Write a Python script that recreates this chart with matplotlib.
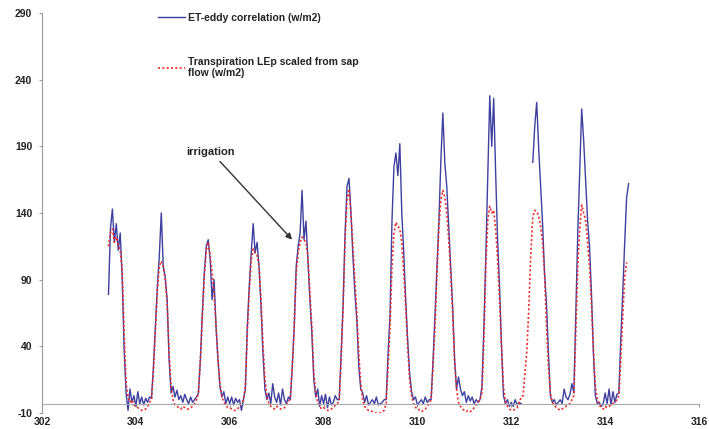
import numpy as np
import matplotlib.pyplot as plt

nan = np.nan

# Hourly values (w/m2), day of year 303 10:00 -> 314 12:00
# ET from eddy correlation
et_303 = [79, 128, 143, 118, 132, 112, 125, 92, 38, 5, -8, 8, -2, 3]  # hours 10-23
et_304 = [-5, 6, -3, 2, -4, 1, -2, 2, 1, 25, 55, 85, 108, 140, 100, 92, 75, 30, 5, 10, 2, 7, 0, 3]
et_305 = [-2, 4, 0, -3, 2, -2, 0, 2, 5, 30, 65, 95, 115, 120, 105, 75, 90, 55, 30, 10, 2, 6, -3, 2]
et_306 = [-3, 2, -4, 1, -2, 0, -8, 0, 8, 55, 85, 110, 132, 110, 118, 100, 70, 35, 8, 0, 5, -3, 12, 2]
et_307 = [-2, 5, -4, 8, 0, -3, 2, 0, 25, 55, 100, 115, 125, 157, 120, 134, 105, 75, 50, 15, 2, 8, -5, 3]
et_308 = [-3, 4, -6, 2, -4, -2, 3, 0, 0, 35, 72, 125, 160, 166, 140, 108, 80, 60, 25, 8, 5, -2, 3, -4]
et_309 = [-2, 0, -3, 2, -4, -3, -2, 0, 0, 35, 64, 135, 175, 185, 168, 192, 140, 110, 75, 45, 20, 6, 0, 2]
et_310 = [-4, -2, 0, -3, 2, -2, 0, 0, 30, 64, 100, 135, 180, 215, 178, 160, 130, 100, 70, 30, 8, 17, 8, 3]
et_311 = [6, -2, 3, -1, 2, -3, 0, -2, 0, 10, 55, 110, 170, 228, 190, 226, 170, 120, 85, 40, 3, -3, 0, -5]
et_312 = [-2, -5, 0, -4, -2, -3, nan, nan, nan, nan, nan, 178, 205, 223, 189, 160, 132, 95, 72, 35, 3, -2, 0, -4]
et_313 = [-2, 0, -3, 8, 2, 0, 4, 12, 5, 65, 125, 172, 218, 195, 165, 135, 115, 80, 35, 3, -3, -2, -5, -3]
et_314 = [5, -3, 8, -4, 6, -2, 4, 5, 45, 80, 118, 152, 162]  # hours 0-12

# transpiration LEp scaled from sap flow
lep_303 = [115, 125, 128, 118, 122, 116, 112, 98, 50, 12, 2, -2, 0, -4]
lep_304 = [-5, -6, -7, -8, -8, -7, -5, -2, 0, 22, 52, 82, 100, 104, 100, 90, 72, 35, 10, 0, -4, -5, -6, -7]
lep_305 = [-5, -6, -7, -7, -6, -5, -3, 0, 5, 30, 62, 92, 112, 118, 108, 95, 80, 55, 30, 12, 2, -2, -4, -6]
lep_306 = [-6, -7, -8, -8, -7, -5, -3, 0, 10, 50, 82, 105, 113, 110, 108, 100, 75, 42, 15, 3, -3, -5, -6, -7]
lep_307 = [-5, -6, -7, -7, -6, -4, -2, 2, 25, 55, 95, 110, 118, 122, 120, 118, 108, 80, 55, 20, 5, -2, -5, -7]
lep_308 = [-6, -7, -8, -8, -7, -6, -4, -3, 0, 30, 70, 120, 150, 158, 140, 115, 90, 65, 35, 12, 0, -5, -7, -8]
lep_309 = [-8, -9, -10, -10, -10, -10, -9, -8, -3, 25, 55, 100, 125, 133, 130, 128, 118, 95, 70, 40, 15, 3, -3, -6]
lep_310 = [-6, -8, -9, -8, -7, -5, -3, 0, 25, 55, 95, 130, 150, 157, 152, 140, 120, 95, 65, 30, 8, -2, -5, -7]
lep_311 = [-8, -9, -8, -9, -8, -6, -4, -2, 0, 5, 45, 100, 135, 145, 140, 142, 128, 105, 75, 40, 10, -2, -5, -7]
lep_312 = [-8, -8, -7, -6, -3, 2, 3, 20, 38, 70, 110, 137, 142, 141, 138, 130, 118, 95, 55, 25, 5, -2, -4, -6]
lep_313 = [-7, -8, -7, -6, -5, -4, -3, 0, 3, 50, 100, 128, 146, 140, 135, 118, 100, 72, 38, 10, 0, -4, -6, -7]
lep_314 = [-5, -6, -5, -4, -3, -2, 0, 3, 30, 62, 92, 103, nan]

first_day = 303
first_hour = 10
x_ticks = [302, 304, 306, 308, 310, 312, 314, 316]
y_ticks = [-10, 40, 90, 140, 190, 240, 290]

et = np.concatenate([et_303, et_304, et_305, et_306, et_307, et_308,
                     et_309, et_310, et_311, et_312, et_313, et_314])
lep = np.concatenate([lep_303, lep_304, lep_305, lep_306, lep_307, lep_308,
                      lep_309, lep_310, lep_311, lep_312, lep_313, lep_314])
t = first_day + (first_hour + np.arange(len(et))) / 24.0

plt.rcParams['font.family'] = ['Liberation Sans', 'DejaVu Sans']
plt.rcParams['font.weight'] = 'bold'
plt.rcParams['axes.unicode_minus'] = False

fig = plt.figure(figsize=(7.09, 4.29), dpi=100)
ax = fig.add_axes([42 / 709, 1 - 413 / 429, 657 / 709, 400 / 429])

ax.plot(t, et, color='#3d40a0', lw=1.0, label='ET-eddy correlation (w/m2)')
ax.plot(t, lep, color='#f02828', lw=1.2, linestyle=(0, (1.2, 1.4)),
        label='Transpiration LEp scaled from sap\nflow (w/m2)')

ax.set_xlim(302, 316)
ax.set_ylim(-10, 290)
ax.set_xticks(x_ticks)
ax.set_yticks(y_ticks)

for s in ['top', 'right']:
    ax.spines[s].set_visible(False)
ax.spines['left'].set_color('#9a9a9a')
ax.spines['bottom'].set_color('#a8a8a8')
ax.spines['bottom'].set_position(('data', -3))
ax.tick_params(axis='x', length=2.5, pad=7, color='#9a9a9a', labelsize=7.5, labelcolor='#222222')
ax.tick_params(axis='y', length=2.5, pad=4.5, color='#9a9a9a', labelsize=7.5, labelcolor='#222222')

ax.annotate('irrigation', xy=(307.33, 120), xytext=(305.6, 186),
            ha='center', va='center', fontsize=8, color='#222222',
            arrowprops=dict(arrowstyle='-|>', color='#333333', lw=1.0,
                            mutation_scale=9, shrinkA=2, shrinkB=0))

leg = ax.legend(loc='upper left', bbox_to_anchor=(158 / 709, 1 - 13 / 429),
                bbox_transform=fig.transFigure, frameon=False, fontsize=7.5,
                handlelength=2.6, handletextpad=0.3, borderpad=0, borderaxespad=0,
                labelspacing=3.3, labelcolor='#222222')
for txt in leg.get_texts():
    txt.set_linespacing(1.1)

fig.savefig('out.png', dpi=100)
